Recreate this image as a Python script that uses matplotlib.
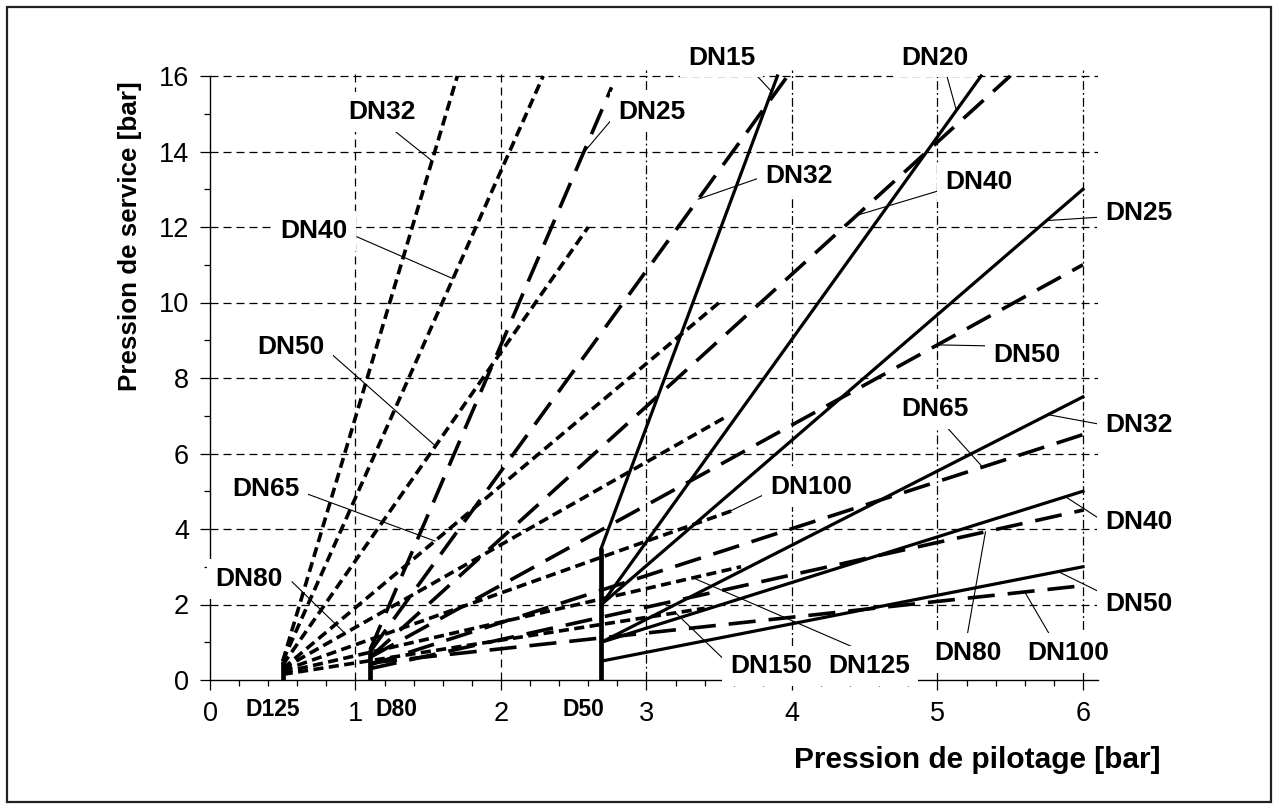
import matplotlib
matplotlib.use('Agg')
import matplotlib.pyplot as plt
import numpy as np
from matplotlib.patches import Rectangle

plt.rcParams['font.family'] = ['Liberation Sans', 'DejaVu Sans']

# ---------------- data ----------------
# pilot diaphragms: origin of each fan (pilot pressure, bar)
pilot_names = ['D125', 'D80', 'D50']
pilot_x = [0.5, 1.1, 2.69]
pilot_label_x = [0.43, 1.28, 2.57]

# D125 fan (short dashes)
d125_dn = ['DN32', 'DN40', 'DN50', 'DN65', 'DN80', 'DN100', 'DN125', 'DN150']
d125_y0 = [0.5, 0.5, 0.4, 0.3, 0.3, 0.25, 0.2, 0.15]
d125_xe = [1.70, 2.29, 2.60, 3.50, 3.56, 3.60, 3.65, 3.40]
d125_ye = [16.0, 16.0, 12.0, 10.0, 7.0, 4.5, 3.0, 1.9]
d125_lab_x = [1.182, 0.715, 0.557, 0.385, 0.265, 4.131, 4.529, 3.856]
d125_lab_y = [15.05, 11.89, 8.82, 5.06, 2.68, 5.10, 0.37, 0.37]
d125_lead_x = [1.251, 1.010, 0.804, 0.653, 0.564, 3.828, 4.433, 3.55]
d125_lead_y = [14.60, 11.74, 8.74, 4.95, 2.60, 4.95, 0.85, 0.48]
d125_lead_t = [1.526, 1.67, 1.55, 1.546, 0.928, 3.56, 3.32, 3.2]

# D80 fan (long dashes)
d80_dn = ['DN25', 'DN32', 'DN40', 'DN50', 'DN65', 'DN80', 'DN100']
d80_y0 = [0.8, 0.75, 0.6, 0.6, 0.4, 0.3, 0.45]
d80_xe = [2.76, 3.97, 5.5, 6.0, 6.0, 6.0, 6.0]
d80_ye = [15.7, 16.0, 16.0, 11.0, 6.5, 4.5, 2.5]
d80_lab_x = [3.038, 4.048, 5.285, 5.615, 4.986, 5.210, 5.897]
d80_lab_y = [15.05, 13.36, 13.18, 8.61, 7.18, 0.72, 0.72]
d80_lead_x = [2.768, 3.799, 5.052, 5.36, 5.052, 5.201, 5.785]
d80_lead_y = [14.88, 13.33, 13.01, 8.85, 6.75, 1.11, 1.11]
d80_lead_t = [2.566, 3.356, 4.445, 5.0, 5.31, 5.33, 5.6]

# D50 fan (solid)
d50_dn = ['DN15', 'DN20', 'DN25', 'DN32', 'DN40', 'DN50']
d50_y0 = [3.5, 2.0, 2.0, 1.0, 1.0, 0.5]
d50_xe = [3.9, 5.3, 6.0, 6.0, 6.0, 6.0]
d50_ye = [16.0, 16.0, 13.0, 7.5, 5.0, 3.0]
d50_lab_x = [3.515, 4.983, 6.385, 6.385, 6.385, 6.385]
d50_lab_y = [16.49, 16.49, 12.38, 6.75, 4.19, 2.01]
d50_lead_x = [3.71, 5.05, 6.151, 6.151, 6.158, 6.158]
d50_lead_y = [16.21, 16.21, 12.27, 6.75, 4.16, 2.25]
d50_lead_t = [3.86, 5.13, 5.75, 5.76, 5.88, 5.83]

x_ticks = [0, 1, 2, 3, 4, 5, 6]
y_ticks = [0, 2, 4, 6, 8, 10, 12, 14, 16]

# ---------------- figure ----------------
W, H = 1278, 809
fig = plt.figure(figsize=(W / 100, H / 100), dpi=100)
ax = fig.add_axes([210 / W, 1 - 680 / H, 887.5 / W, 16.15 * 37.75 / H])
ax.set_xlim(0, 6.1)
ax.set_ylim(0, 16.15)

for s in ['top', 'right']:
    ax.spines[s].set_visible(False)
ax.spines['left'].set_bounds(0, 16)
for s in ['left', 'bottom']:
    ax.spines[s].set_linewidth(1.0)

ax.set_xticks(x_ticks)
ax.set_yticks(y_ticks)
ax.set_xticks(np.arange(0, 6.01, 0.2), minor=True)
ax.set_yticks(np.arange(1, 16, 2), minor=True)
ax.tick_params(which='major', direction='out', length=7, width=0.9,
               labelsize=19.5, pad=8)
ax.tick_params(which='minor', direction='out', length=4.5, width=0.9)

ax.grid(True, which='major', color='black', lw=0.9, linestyle=(0, (6.4, 4)))
ax.set_axisbelow(True)
for gl, xv in zip(ax.get_xgridlines(), x_ticks):
    if xv >= 3:
        gl.set_linestyle((0, (7, 2.5, 1.5, 2.5)))
    if xv == 0:
        gl.set_visible(False)
for gl, yv in zip(ax.get_ygridlines(), y_ticks):
    if yv == 0:
        gl.set_visible(False)

styles = [
    dict(color='black', lw=2.6, dashes=(2.8, 1.5)),
    dict(color='black', lw=2.6, dashes=(7.5, 3.6)),
    dict(color='black', lw=2.3, linestyle='-'),
]
groups = [
    (d125_dn, d125_y0, d125_xe, d125_ye, d125_lab_x, d125_lab_y, d125_lead_x, d125_lead_y, d125_lead_t),
    (d80_dn, d80_y0, d80_xe, d80_ye, d80_lab_x, d80_lab_y, d80_lead_x, d80_lead_y, d80_lead_t),
    (d50_dn, d50_y0, d50_xe, d50_ye, d50_lab_x, d50_lab_y, d50_lead_x, d50_lead_y, d50_lead_t),
]

for gi, (dn, y0, xe, ye, lx, ly, ldx, ldy, ldt) in enumerate(groups):
    x0 = pilot_x[gi]
    for i in range(len(dn)):
        ax.plot([x0, xe[i]], [y0[i], ye[i]], zorder=3, clip_on=False, **styles[gi])
        # leader line
        ty = y0[i] + (ldt[i] - x0) * (ye[i] - y0[i]) / (xe[i] - x0)
        ax.plot([ldx[i], ldt[i]], [ldy[i], ty], color='black', lw=0.8,
                zorder=4, clip_on=False)
        ax.text(lx[i], ly[i], dn[i], fontsize=19, fontweight='bold',
                ha='center', va='center', zorder=6, clip_on=False,
                bbox=dict(boxstyle='square,pad=0.3', fc='white', ec='none'))
    # vertical start segment of each fan
    ax.plot([x0, x0], [0, max(y0)], color='black', lw=3.4, zorder=3,
            solid_capstyle='butt')
    ax.text(pilot_label_x[gi], -0.78, pilot_names[gi], fontsize=16.5,
            fontweight='bold', ha='center', va='center', clip_on=False)

fig.text(1160 / W, 1 - 768 / H, 'Pression de pilotage [bar]', fontsize=21.5,
         fontweight='bold', ha='right', va='baseline')
fig.text(130 / W, 1 - 236 / H, 'Pression de service [bar]', fontsize=18.7,
         fontweight='bold', ha='center', va='center', rotation=90)

fig.add_artist(Rectangle((7 / W, 1 - 802 / H), 1264 / W, 795 / H,
                         transform=fig.transFigure, fill=False,
                         ec='#222222', lw=1.6))

fig.savefig('out.png', dpi=100)
